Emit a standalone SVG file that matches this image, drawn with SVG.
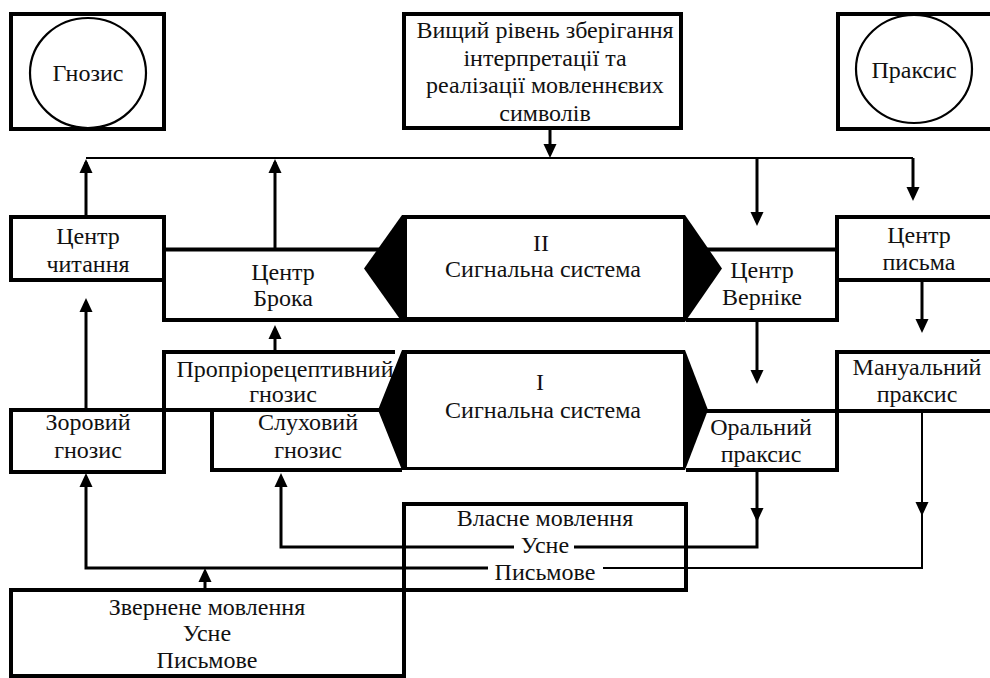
<svg xmlns="http://www.w3.org/2000/svg" xmlns:xlink="http://www.w3.org/1999/xlink" width="990" height="678" viewBox="0 0 990 678">
<style>
.box{fill:#fff;stroke:#000;stroke-width:4}
.band{fill:none;stroke:#000;stroke-width:4}
.ell{fill:#fff;stroke:#000;stroke-width:2.2}
.hex{fill:#000}
.in{fill:#fff}
text{font-family:'Liberation Serif','DejaVu Serif',serif;font-size:24px;fill:#111;text-anchor:middle}
.c{fill:none;stroke:#000;stroke-width:3}
.c2{fill:none;stroke:#000;stroke-width:2}
</style>
<defs>
<path id="ah" d="M-6.5,-14 L6.5,-14 L0,0 Z" fill="#000"/>
</defs>
<rect width="990" height="678" fill="#fff"/>

<g id="connectors">
<path class="c2" d="M86 158 H913"/>
<path class="c" d="M86 215 V162"/>
<use xlink:href="#ah" transform="translate(86,159) rotate(180)"/>
<path class="c" d="M275 248 V162"/>
<use xlink:href="#ah" transform="translate(275,159) rotate(180)"/>
<path class="c" d="M550 130 V150"/>
<use xlink:href="#ah" transform="translate(550,158)"/>
<path class="c" d="M757 158 V215"/>
<use xlink:href="#ah" transform="translate(757,226)"/>
<path class="c" d="M913 158 V190"/>
<use xlink:href="#ah" transform="translate(913,201)"/>
<path class="c" d="M86 410 V305"/>
<use xlink:href="#ah" transform="translate(86,298) rotate(180)"/>
<path class="c" d="M275 350 V332"/>
<use xlink:href="#ah" transform="translate(275,325) rotate(180)"/>
<path class="c" d="M757 322 V372"/>
<use xlink:href="#ah" transform="translate(757,384)"/>
<path class="c" d="M922 282 V322"/>
<use xlink:href="#ah" transform="translate(922,333)"/>
<path class="c" d="M757 472 V547 H574"/>
<use xlink:href="#ah" transform="translate(757,522)"/>
<path class="c" d="M514 547 H281 V480"/>
<use xlink:href="#ah" transform="translate(281,473) rotate(180)"/>
<path class="c2" d="M922 411 V568 H603"/>
<use xlink:href="#ah" transform="translate(922,516)"/>
<path class="c" d="M488 568 H86 V480"/>
<use xlink:href="#ah" transform="translate(86,473) rotate(180)"/>
<path class="c" d="M205 590 V575"/>
<use xlink:href="#ah" transform="translate(205,568) rotate(180)"/>
</g>

<g id="gnosis">
<rect class="box" x="11" y="14" width="153" height="115"/>
<ellipse class="ell" cx="88" cy="73" rx="58" ry="55"/>
<text x="88" y="81">Гнозис</text>
</g>

<g id="praxis">
<rect class="box" x="838" y="14" width="160" height="115"/>
<ellipse class="ell" cx="914" cy="69" rx="58" ry="54"/>
<text x="914" y="78">Праксис</text>
</g>

<g id="higher-level">
<rect class="box" x="404" y="14" width="277" height="114"/>
<text x="545" y="38">Вищий рівень зберігання</text>
<text x="545" y="65.5">інтерпретації та</text>
<text x="545" y="93">реалізації мовленнєвих</text>
<text x="545" y="121">символів</text>
</g>

<g id="reading-center">
<rect class="box" x="11" y="217" width="153" height="63"/>
<text x="88" y="244">Центр</text>
<text x="88" y="272">читання</text>
</g>

<g id="broca">
<path class="band" d="M395 249.5 H164 V320 H402"/>
<text x="283" y="280">Центр</text>
<text x="283" y="306">Брока</text>
</g>

<g id="wernicke">
<path class="band" d="M690 249.5 H837 V320 H686"/>
<text x="762" y="278">Центр</text>
<text x="762" y="305">Вернiке</text>
</g>

<g id="writing-center">
<rect class="box" x="837" y="217" width="160" height="63"/>
<text x="919" y="243">Центр</text>
<text x="919" y="270">письма</text>
</g>

<g id="signal-system-2">
<polygon class="hex" points="402,215 685,215 722,268.5 685,322 402,322 364,268.5"/>
<rect class="in" x="407" y="219" width="276" height="98"/>
<text x="541" y="251">II</text>
<text x="543" y="277">Сигнальна система</text>
</g>

<g id="proprioceptive">
<path class="band" d="M395 352 H164 V410 H380"/>
<text x="285" y="377">Пропріорецептивний</text>
<text x="283" y="402">гнозис</text>
</g>

<g id="visual">
<rect class="box" x="11" y="410" width="153" height="62"/>
<text x="88" y="430">Зоровий</text>
<text x="88" y="458">гнозис</text>
</g>

<g id="auditory">
<path class="band" d="M395 410 H212 V470 H402"/>
<text x="308" y="430">Слуховий</text>
<text x="308" y="458">гнозис</text>
</g>

<g id="manual">
<rect class="box" x="837" y="352" width="160" height="59"/>
<text x="917" y="375">Мануальний</text>
<text x="917" y="402">праксис</text>
</g>

<g id="oral">
<path class="band" d="M700 411 H837 V470 H686"/>
<text x="761" y="435">Оральний</text>
<text x="761" y="462">праксис</text>
</g>

<g id="signal-system-1">
<polygon class="hex" points="402,350 685,350 708,410 685,470 402,470 378,410"/>
<rect class="in" x="407" y="354" width="276" height="113"/>
<text x="540" y="390">I</text>
<text x="543" y="418">Сигнальна система</text>
</g>

<g id="own-speech">
<path class="band" d="M404 590 V504 H686 V590 H404"/>
<text x="545" y="526">Власне мовлення</text>
<text x="545" y="553">Усне</text>
<text x="545" y="580">Письмове</text>
</g>

<g id="addressed-speech">
<rect class="box" x="11" y="590" width="393" height="86"/>
<text x="207" y="615">Звернене мовлення</text>
<text x="207" y="641">Усне</text>
<text x="207" y="668">Письмове</text>
</g>
</svg>
